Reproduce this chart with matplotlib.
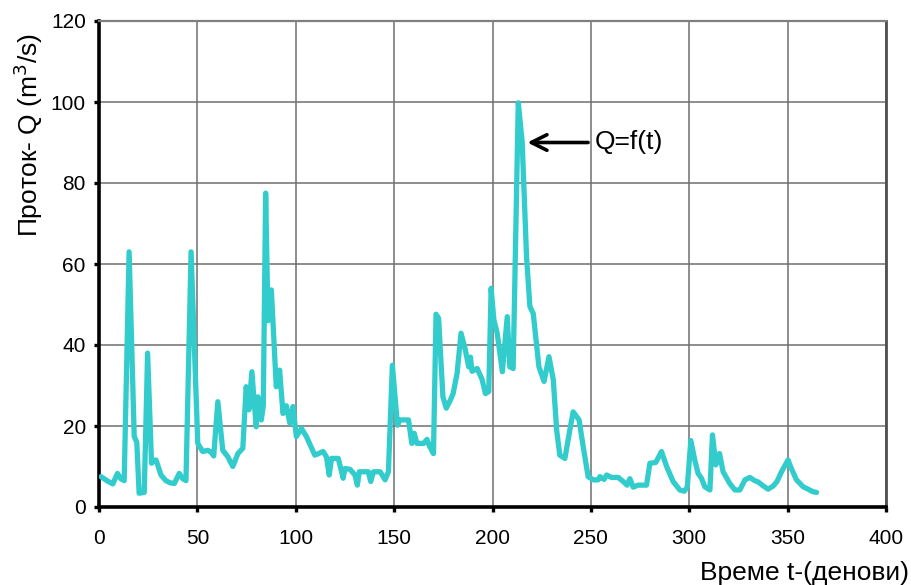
import numpy as np
import matplotlib
matplotlib.use('Agg')
import matplotlib.pyplot as plt

plt.rcParams['font.family'] = ['Liberation Sans', 'DejaVu Sans']

# daily discharge over the year (day, Q in m3/s)
days = [1, 4, 7, 9.4, 11, 12.8, 15.3, 17.9, 19.2, 20.4, 23, 24.7, 26.7, 28, 29,
        31.5, 34, 36, 38.3, 40.8, 42.5, 44.2, 46.8, 50.2, 52.7, 55.3, 57, 58.3,
        60.4, 62.9, 65.5, 68, 70.6, 73.1, 74.8, 76.2, 77.7, 79.9, 80.8, 82.5,
        83.5, 84.7, 85.9, 87.6, 90.1, 91.8, 93.5, 95.2, 97, 98.6, 100.3, 102.9,
        105.4, 109.7, 113.9, 115.6, 117, 118.2, 121.6, 124.1, 125, 127.6, 130.1,
        131.3, 132.3, 136.9, 138.1, 139.5, 142.9, 145.4, 147.1, 149.1, 151.7,
        153, 157.3, 159, 160.2, 161.6, 165, 166.7, 168, 170, 171.3, 172.6,
        174.8, 176.5, 178.6, 180, 182, 184, 186.2, 187.9, 188.8, 189.6, 192.2,
        194.7, 196.4, 198.1, 199.3, 200.7, 202.4, 205, 207.5, 208.8, 210.5,
        213.1, 215.1, 217.3, 219, 220.7, 223.6, 226.2, 228.7, 230.9, 232.6,
        234.2, 236.8, 239.3, 241, 244, 246.1, 248.6, 251.2, 253.7, 254.6,
        256.7, 258, 260.5, 263.9, 266.4, 268.4, 269.8, 271.5, 274, 278.3, 280,
        283, 285.9, 288.5, 291.8, 295.2, 297.5, 299, 300.8, 302.8, 304.5,
        306.2, 307.9, 310.5, 311.8, 313.5, 314.5, 315.4, 317.2, 320.6, 323.2,
        325.7, 328.3, 330.8, 333.3, 335, 337.6, 340.1, 342.7, 344.6, 346.9,
        350.2, 351.9, 354.5, 357.9, 360.4, 362.7, 364.7]
flow = [7.5, 6.5, 5.7, 8.3, 7, 6.5, 63, 17.4, 16, 3.4, 3.6, 38, 10.8, 11.5, 11.6,
        7.9, 6.5, 6, 5.8, 8.3, 7, 6.5, 63, 15.7, 13.7, 14, 13.5, 12.6,
        26, 14, 12.4, 10, 13.2, 14.5, 29.7, 24, 33.4, 19.8, 27.2, 21.5,
        25, 77.5, 46, 53.6, 29.7, 33.8, 23.1, 25, 20.7, 24.8, 17.4, 19.4,
        17.4, 12.8, 13.7, 12.4, 7.9, 12, 12, 7.1, 9.5, 9.3, 7.9,
        5.4, 8.7, 8.7, 6.3, 8.7, 8.7, 6.7, 8.7, 35, 20.2,
        21.5, 21.5, 15.7, 18.2, 15.7, 15.7, 16.7, 15, 13.2, 47.6, 46.6,
        27.2, 24.4, 26.4, 28, 33, 42.9, 38.8, 34.6, 37, 33.5, 34.2,
        31.5, 28, 28.5, 54, 46.2, 42.9, 33.4, 47, 34.6, 34.2,
        99.8, 90, 61.8, 49.5, 47.8, 34.6, 31, 37.1, 31.4, 19,
        12.8, 12, 19, 23.5, 21.5, 14.9, 7.5, 6.7, 6.7, 7.5,
        6.8, 7.9, 7.3, 7.3, 6.3, 5.4, 7, 4.9, 5.4, 5.4, 10.8,
        11, 13.7, 10, 6.3, 4.2, 3.9, 4.9, 16.4, 11.6, 8.3,
        7.1, 5, 4.2, 17.8, 10.4, 12.5, 13.2, 8.7, 5.8, 4.2,
        4.2, 6.7, 7.3, 6.5, 6.2, 5.2, 4.4, 5.2, 6.3, 8.7,
        11.6, 9.5, 6.7, 5, 4.4, 3.8, 3.6]

x_ticks = [0, 50, 100, 150, 200, 250, 300, 350, 400]
y_ticks = [0, 20, 40, 60, 80, 100, 120]

fig = plt.figure(figsize=(9.11, 5.85), dpi=100)
ax = fig.add_axes([99 / 911, 1 - 507 / 585, 787 / 911, 486 / 585])

ax.plot(days, flow, color='#33CCCC', lw=3.8, solid_joinstyle='round',
        solid_capstyle='round', zorder=3)

ax.set_xlim(0, 400)
ax.set_ylim(0, 120)
ax.set_xticks(x_ticks)
ax.set_yticks(y_ticks)
ax.grid(True, color='#6f6f6f', lw=1.1)
ax.set_axisbelow(True)

for side in ['left', 'bottom']:
    ax.spines[side].set_linewidth(2.6)
    ax.spines[side].set_color('black')
ax.spines['top'].set_color('#808080')
ax.spines['top'].set_linewidth(1.6)
ax.spines['right'].set_color('#505050')
ax.spines['right'].set_linewidth(2.0)

ax.tick_params(direction='out', length=3.5, width=2.4, labelsize=15,
               colors='black', pad=6)
ax.tick_params(axis='x', pad=12)

# arrow pointing at the peak
ax.annotate('', xy=(216.3, 90), xytext=(250, 90),
            arrowprops=dict(arrowstyle='->', color='black', lw=2.6,
                            mutation_scale=28))
ax.text(252, 90, 'Q=f(t)', fontsize=19, va='center', ha='left')

fig.text(28 / 911, 1 - 135 / 585, 'Проток- Q (m$^3$/s)', fontsize=19,
         rotation=90, ha='center', va='center')
fig.text(909 / 911, 1 - 573 / 585, 'Време t-(денови)', fontsize=19,
         ha='right', va='center')

fig.savefig('out.png', dpi=100)
